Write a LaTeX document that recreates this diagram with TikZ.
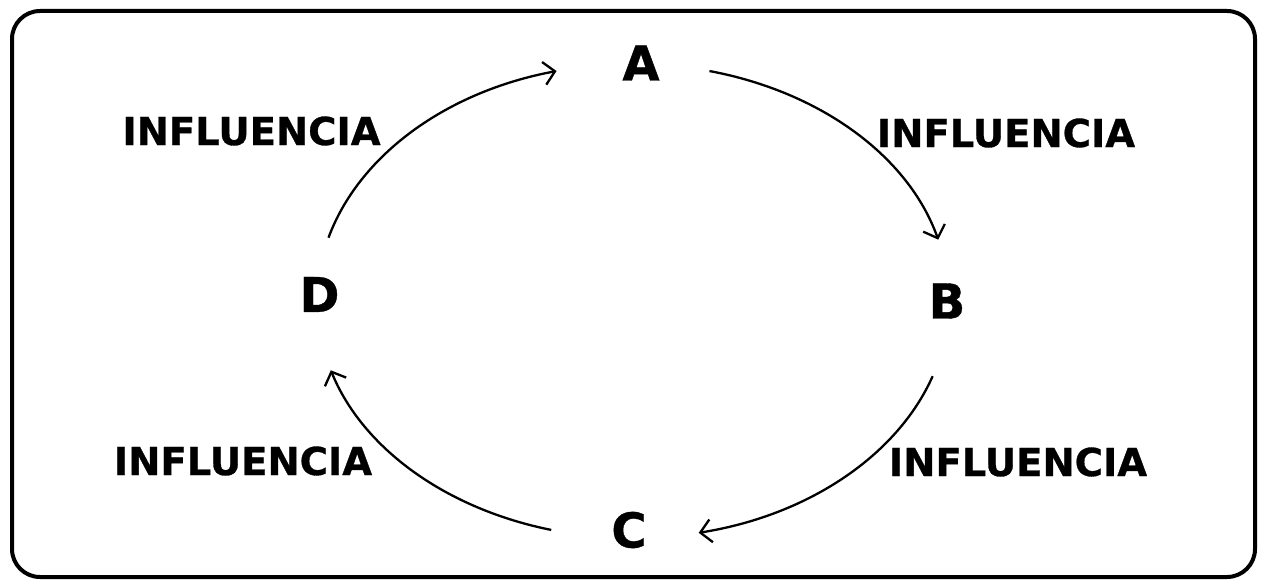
\documentclass[tikz,border=0pt]{standalone}
\usepackage{fontspec}
\setmainfont{DejaVu Sans}
\newfontfamily\heavyfont[FakeBold=0.8]{DejaVu Sans Bold}
\usetikzlibrary{arrows.meta}
\begin{document}
\begin{tikzpicture}[x=1pt,y=1pt,
  letter/.style={font=\heavyfont\fontsize{48}{48}\selectfont, inner sep=0pt},
  lab/.style={font=\heavyfont\fontsize{38.5}{38.5}\selectfont, inner sep=0pt},
  conn/.style={line width=2.3pt, -{Straight Barb[length=11pt,width=23pt,line width=2.3pt]}},
  frame/.style={line width=4pt, rounded corners=28pt}]
\useasboundingbox (0,0) rectangle (1263,581);
\draw[frame] (12,570) rectangle (1255,4);
\node[letter] (A) at (641,518) {A};
\node[letter] (B) at (947,280) {B};
\node[letter] (C) at (629,51) {C};
\node[letter] (D) at (319.5,286.5) {D};
\node[lab] (L1) at (251.5,450) {INFLUENCIA};
\node[lab] (L2) at (1006,448) {INFLUENCIA};
\node[lab] (L3) at (243,120) {INFLUENCIA};
\node[lab] (L4) at (1018,119) {INFLUENCIA};
\coordinate (ctr) at (633,280);
\path (ctr) ++(164.5:316 and 237) coordinate (sDA);
\path (ctr) ++(76:316 and 237) coordinate (sAB);
\path (ctr) ++(-18.5:316 and 237) coordinate (sBC);
\path (ctr) ++(-105:316 and 237) coordinate (sCD);
\draw[conn] (sDA) arc[start angle=164.5, end angle=104, x radius=316, y radius=237];
\draw[conn] (sAB) arc[start angle=76, end angle=15, x radius=316, y radius=237];
\draw[conn] (sBC) arc[start angle=-18.5, end angle=-78, x radius=316, y radius=237];
\draw[conn] (sCD) arc[start angle=-105, end angle=-163, x radius=316, y radius=237];
\end{tikzpicture}
\end{document}
